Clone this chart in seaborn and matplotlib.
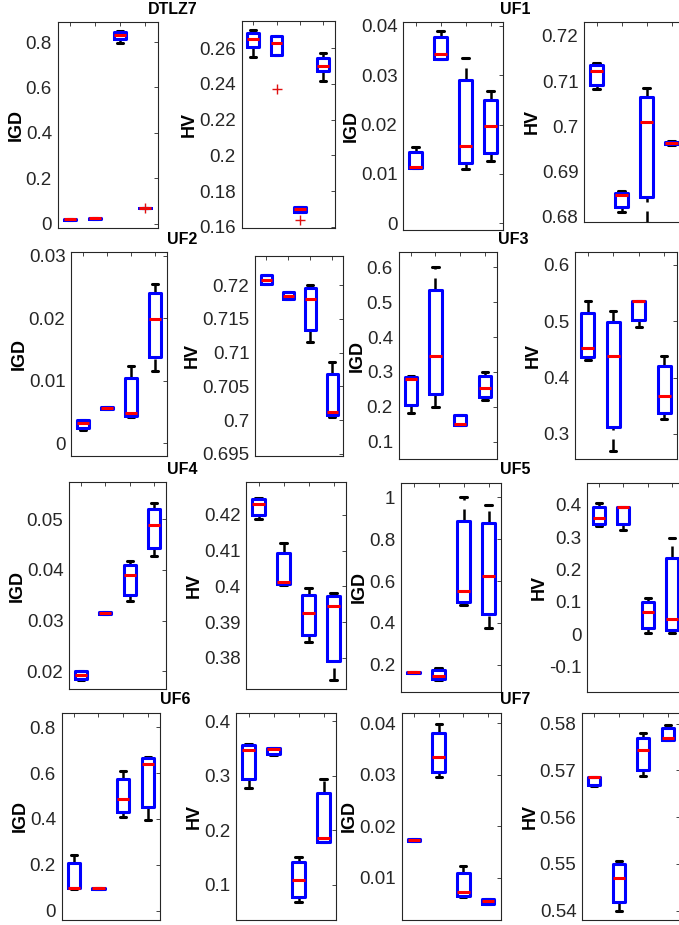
import numpy as np
import pandas as pd
import matplotlib
matplotlib.use("Agg")
import matplotlib.pyplot as plt
from matplotlib.ticker import FuncFormatter
import seaborn as sns

sns.set_style("white")
plt.rcParams["font.family"] = ["Liberation Sans", "DejaVu Sans"]

ALGS = ["A1", "A2", "A3", "A4"]

# five-number summaries per algorithm: [low whisker, Q1, median, Q3, high whisker]
dtlz7_igd = [[0.017, 0.018, 0.020, 0.022, 0.023],
             [0.021, 0.022, 0.024, 0.026, 0.027],
             [0.797, 0.812, 0.831, 0.845, 0.848],
             [0.069, 0.0695, 0.070, 0.0705, 0.071]]
dtlz7_hv = [[0.2551, 0.2607, 0.2650, 0.2682, 0.2700],
            [0.2561, 0.2561, 0.2626, 0.2667, 0.2667],
            [0.1682, 0.1682, 0.1700, 0.1713, 0.1713],
            [0.2417, 0.2472, 0.2501, 0.2542, 0.2574]]
uf1_igd = [[0.0112, 0.0112, 0.0114, 0.0145, 0.0155],
           [0.0332, 0.0332, 0.0343, 0.0378, 0.0390],
           [0.0109, 0.0121, 0.0156, 0.0290, 0.0334],
           [0.0127, 0.0143, 0.0196, 0.0250, 0.0269]]
uf1_hv = [[0.7082, 0.7091, 0.7122, 0.7136, 0.7141],
          [0.6809, 0.6821, 0.6847, 0.6852, 0.6855],
          [0.6785, 0.6842, 0.7010, 0.7065, 0.7084],
          [0.6959, 0.6960, 0.6962, 0.6965, 0.6966]]
uf2_igd = [[0.0021, 0.0024, 0.0032, 0.0037, 0.0037],
           [0.0054, 0.0054, 0.0056, 0.0057, 0.0057],
           [0.0042, 0.0043, 0.0048, 0.0104, 0.0123],
           [0.0116, 0.0138, 0.0199, 0.0240, 0.0255]]
uf2_hv = [[0.7202, 0.7202, 0.7208, 0.7215, 0.7215],
          [0.7180, 0.7180, 0.7184, 0.7190, 0.7190],
          [0.7116, 0.7133, 0.7180, 0.7195, 0.7200],
          [0.7005, 0.7007, 0.7012, 0.7068, 0.7086]]
uf3_igd = [[0.1832, 0.2052, 0.2788, 0.2864, 0.2870],
           [0.1985, 0.2367, 0.3467, 0.5350, 0.6000],
           [0.1478, 0.1478, 0.1507, 0.1765, 0.1765],
           [0.2195, 0.2290, 0.2530, 0.2883, 0.3008]]
uf3_hv = [[0.4314, 0.4361, 0.4521, 0.5154, 0.5367],
          [0.2704, 0.3130, 0.4390, 0.4982, 0.5190],
          [0.4905, 0.5024, 0.5360, 0.5360, 0.5360],
          [0.3266, 0.3379, 0.3680, 0.4213, 0.4390]]
uf4_igd = [[0.0182, 0.0184, 0.0193, 0.0200, 0.0201],
           [0.0313, 0.0313, 0.0315, 0.0317, 0.0317],
           [0.0338, 0.0351, 0.0390, 0.0410, 0.0417],
           [0.0428, 0.0443, 0.0488, 0.0520, 0.0532]]
uf4_hv = [[0.4188, 0.4200, 0.4230, 0.4245, 0.4248],
          [0.4005, 0.4007, 0.4012, 0.4093, 0.4121],
          [0.3844, 0.3865, 0.3926, 0.3977, 0.3995],
          [0.3738, 0.3791, 0.3944, 0.3972, 0.3981]]
uf5_igd = [[0.162, 0.162, 0.165, 0.168, 0.168],
           [0.130, 0.133, 0.148, 0.173, 0.184],
           [0.486, 0.502, 0.553, 0.887, 1.000],
           [0.375, 0.442, 0.626, 0.879, 0.963]]
uf5_hv = [[0.335, 0.340, 0.359, 0.392, 0.405],
          [0.323, 0.340, 0.393, 0.393, 0.393],
          [0.003, 0.019, 0.068, 0.099, 0.111],
          [0.003, 0.013, 0.047, 0.237, 0.297]]
uf6_igd = [[0.095, 0.0975, 0.0975, 0.2065, 0.243],
           [0.096, 0.096, 0.0975, 0.099, 0.099],
           [0.410, 0.428, 0.486, 0.573, 0.607],
           [0.393, 0.454, 0.640, 0.665, 0.672]]
uf6_hv = [[0.2775, 0.294, 0.348, 0.357, 0.358],
          [0.3388, 0.3406, 0.349, 0.3522, 0.3522],
          [0.068, 0.0785, 0.109, 0.1416, 0.152],
          [0.178, 0.1796, 0.187, 0.2683, 0.294]]
uf7_igd = [[0.0171, 0.0171, 0.0173, 0.0175, 0.0175],
           [0.0295, 0.0306, 0.0334, 0.0382, 0.0399],
           [0.0063, 0.0065, 0.0073, 0.0110, 0.0123],
           [0.0049, 0.0049, 0.0055, 0.0058, 0.0058]]
uf7_hv = [[0.5666, 0.5669, 0.5686, 0.5687, 0.5687],
          [0.5400, 0.5418, 0.5469, 0.5500, 0.5507],
          [0.5689, 0.5701, 0.5744, 0.5769, 0.5780],
          [0.5766, 0.5766, 0.5769, 0.5791, 0.5798]]

# outlier runs: (algorithm index, value)
dtlz7_igd_out = [(3, 0.070)]
dtlz7_hv_out = [(1, 0.2369), (2, 0.1639)]

problems = ["DTLZ7", "UF1", "UF2", "UF3", "UF4", "UF5", "UF6", "UF7"]

panels = [
    # data, outliers, metric, yticks, ylim, pixel box (left, right, top, bottom)
    (dtlz7_igd, dtlz7_igd_out, "IGD", [0, 0.2, 0.4, 0.6, 0.8], (-0.018, 0.888), (57.5, 157.5, 22, 228)),
    (dtlz7_hv, dtlz7_hv_out, "HV", [0.16, 0.18, 0.2, 0.22, 0.24, 0.26], (0.1594, 0.2751), (241.5, 335, 21, 228)),
    (uf1_igd, [], "IGD", [0, 0.01, 0.02, 0.03, 0.04], (-0.0014, 0.0408), (403, 503, 22, 230)),
    (uf1_hv, [], "HV", [0.68, 0.69, 0.7, 0.71, 0.72], (0.6787, 0.7231), (584, 684, 22, 222)),
    (uf2_igd, [], "IGD", [0, 0.01, 0.02, 0.03], (-0.00215, 0.0306), (71, 166.5, 252, 456.5)),
    (uf2_hv, [], "HV", [0.695, 0.7, 0.705, 0.71, 0.715, 0.72], (0.6947, 0.7243), (255, 343, 256, 456)),
    (uf3_igd, [], "IGD", [0.1, 0.2, 0.3, 0.4, 0.5, 0.6], (0.0503, 0.644), (398.5, 497, 252, 459)),
    (uf3_hv, [], "HV", [0.3, 0.4, 0.5, 0.6], (0.2556, 0.623), (575, 677, 252, 459)),
    (uf4_igd, [], "IGD", [0.02, 0.03, 0.04, 0.05], (0.01652, 0.05735), (69, 166, 482, 689)),
    (uf4_hv, [], "HV", [0.38, 0.39, 0.4, 0.41, 0.42], (0.3713, 0.4292), (246, 346, 482, 689)),
    (uf5_igd, [], "IGD", [0.2, 0.4, 0.6, 0.8, 1], (0.0728, 1.07), (401, 501, 482.5, 691.5)),
    (uf5_hv, [], "HV", [-0.1, 0, 0.1, 0.2, 0.3, 0.4], (-0.177, 0.469), (587, 684, 482.5, 691.5)),
    (uf6_igd, [], "IGD", [0, 0.2, 0.4, 0.6, 0.8], (-0.041, 0.864), (61.5, 160, 712.5, 920)),
    (uf6_hv, [], "HV", [0.1, 0.2, 0.3, 0.4], (0.0356, 0.4165), (236, 336, 712.5, 920)),
    (uf7_igd, [], "IGD", [0.01, 0.02, 0.03, 0.04], (0.00177, 0.0421), (401.5, 500.5, 712.5, 920)),
    (uf7_hv, [], "HV", [0.54, 0.55, 0.56, 0.57, 0.58], (0.538, 0.5824), (582, 680, 712.5, 920)),
]

# problem titles placed between each IGD/HV pair (pixel centre x, y)
title_pos = [(173, 10), (515, 10), (182, 240), (513, 240),
             (182, 470), (515, 470), (175, 700), (515, 700)]

W, H = 679, 925
fig = plt.figure(figsize=(W / 100, H / 100), dpi=100)
fig.patch.set_facecolor("white")

AX_COLOR = "#262626"
fmt = FuncFormatter(lambda v, p: "%g" % round(v, 6) if abs(v) > 1e-12 else "0")

for data, outs, metric, yticks, ylim, (l, r, t, b) in panels:
    ax = fig.add_axes([l / W, (H - b) / H, (r - l) / W, (b - t) / H])
    df = pd.DataFrame({
        "alg": np.repeat(ALGS, [len(d) for d in data]),
        "value": np.concatenate([np.asarray(d, float) for d in data]),
    })
    sns.boxplot(data=df, x="alg", y="value", order=ALGS, ax=ax,
                whis=(0, 100), width=0.5, fill=False, color="#0000ff",
                linewidth=2.2, showfliers=False,
                boxprops=dict(color="#0000ff", linewidth=2.2, zorder=3),
                medianprops=dict(color="#ff0000", linewidth=2.2, zorder=4),
                whiskerprops=dict(color="black", linewidth=1.8, dashes=(4.8, 3.6), zorder=2),
                capprops=dict(color="black", linewidth=2.2, zorder=2))
    # lower whiskers are stroked from their far end toward the box
    for ln in ax.lines:
        if ln.get_linestyle() not in ("-", "None") and ln.get_color() in ("black", "k", (0, 0, 0, 1)):
            y = np.asarray(ln.get_ydata(), float)
            if len(y) == 2 and y[1] < y[0]:
                ln.set_ydata(y[::-1])
                ln.set_xdata(np.asarray(ln.get_xdata())[::-1])
    if outs:
        ox = [o[0] for o in outs]
        oy = [o[1] for o in outs]
        sns.scatterplot(x=ox, y=oy, ax=ax, marker="+", color="#e01010",
                        s=60, linewidth=1.0, legend=False, zorder=5)
    ax.set_xlim(-0.5, 3.5)
    ax.set_ylim(*ylim)
    ax.set_xticks(range(len(ALGS)))
    ax.set_xticklabels([])
    ax.set_yticks(yticks)
    ax.yaxis.set_major_formatter(fmt)
    ax.set_xlabel("")
    ax.set_ylabel(metric, fontsize=13, fontweight="bold", color="black", labelpad=1)
    ax.tick_params(axis="both", which="both", direction="in", length=3, width=0.6,
                   color=AX_COLOR, top=True, right=True, labelsize=13.5,
                   labelcolor=AX_COLOR, pad=4)
    for sp in ax.spines.values():
        sp.set_visible(True)
        sp.set_color(AX_COLOR)
        sp.set_linewidth(0.8)
    ax.set_facecolor("white")

for name, (x, y) in zip(problems, title_pos):
    fig.text(x / W, 1 - y / H, name, ha="center", va="center",
             fontsize=11.5, fontweight="bold", color="black")

fig.savefig("out.png", dpi=100, facecolor="white")
